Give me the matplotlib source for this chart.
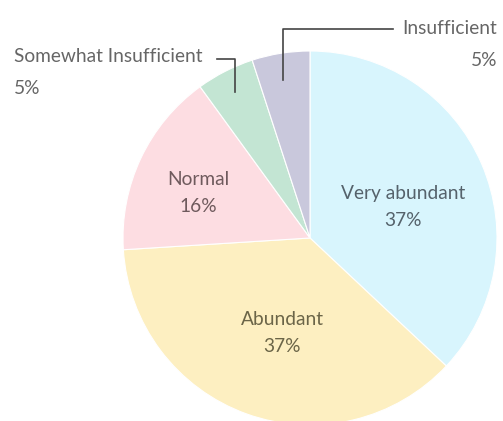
import matplotlib
matplotlib.use("Agg")
import matplotlib.pyplot as plt

categories = ["Very abundant", "Abundant", "Normal", "Somewhat Insufficient", "Insufficient"]
values = [37, 37, 16, 5, 5]
pct_labels = ["37%", "37%", "16%", "5%", "5%"]
colors = ["#d8f5fd", "#fdefc1", "#fddde2", "#c3e5d3", "#c9c8dc"]

plt.rcParams['font.family'] = ['Lato', 'DejaVu Sans']

W, H = 503, 421
fig = plt.figure(figsize=(W / 100, H / 100), dpi=100)
ax = fig.add_axes([0, 0, 1, 1])

cx, cy, R = 310, 421 - 238, 187
ax.pie(values, colors=colors, startangle=90, counterclock=False,
       center=(cx, cy), radius=R, frame=True,
       wedgeprops=dict(edgecolor='white', linewidth=0.8))
ax.set_xlim(0, W)
ax.set_ylim(0, H)
ax.set_aspect('equal')
ax.axis('off')

fs = 13.8
tc = "#666666"
# inner labels
inner = {0: (403, 421 - 207, "#55626b"), 1: (282, 421 - 333, "#6b6548"), 2: (198, 421 - 193, "#6f5a5d")}
for i, (x, y, c) in inner.items():
    ax.text(x, y, f"{categories[i]}\n{pct_labels[i]}", ha='center', va='center',
            fontsize=fs, color=c, linespacing=1.7)

# Insufficient leader
lc = "#444444"
ax.plot([283, 283, 393], [421 - 80, 421 - 29, 421 - 29], color=lc, lw=1.2)
ax.text(497, 421 - 29, categories[4], ha='right', va='center', fontsize=fs, color=tc)
ax.text(497, 421 - 60, pct_labels[4], ha='right', va='center', fontsize=fs, color=tc)

# Somewhat Insufficient leader
ax.plot([217, 235, 235], [421 - 59, 421 - 59, 421 - 92], color=lc, lw=1.2)
ax.text(14, 421 - 57, categories[3], ha='left', va='center', fontsize=fs, color=tc)
ax.text(14, 421 - 88, pct_labels[3], ha='left', va='center', fontsize=fs, color=tc)

fig.savefig("out.png", dpi=100, facecolor='white')
